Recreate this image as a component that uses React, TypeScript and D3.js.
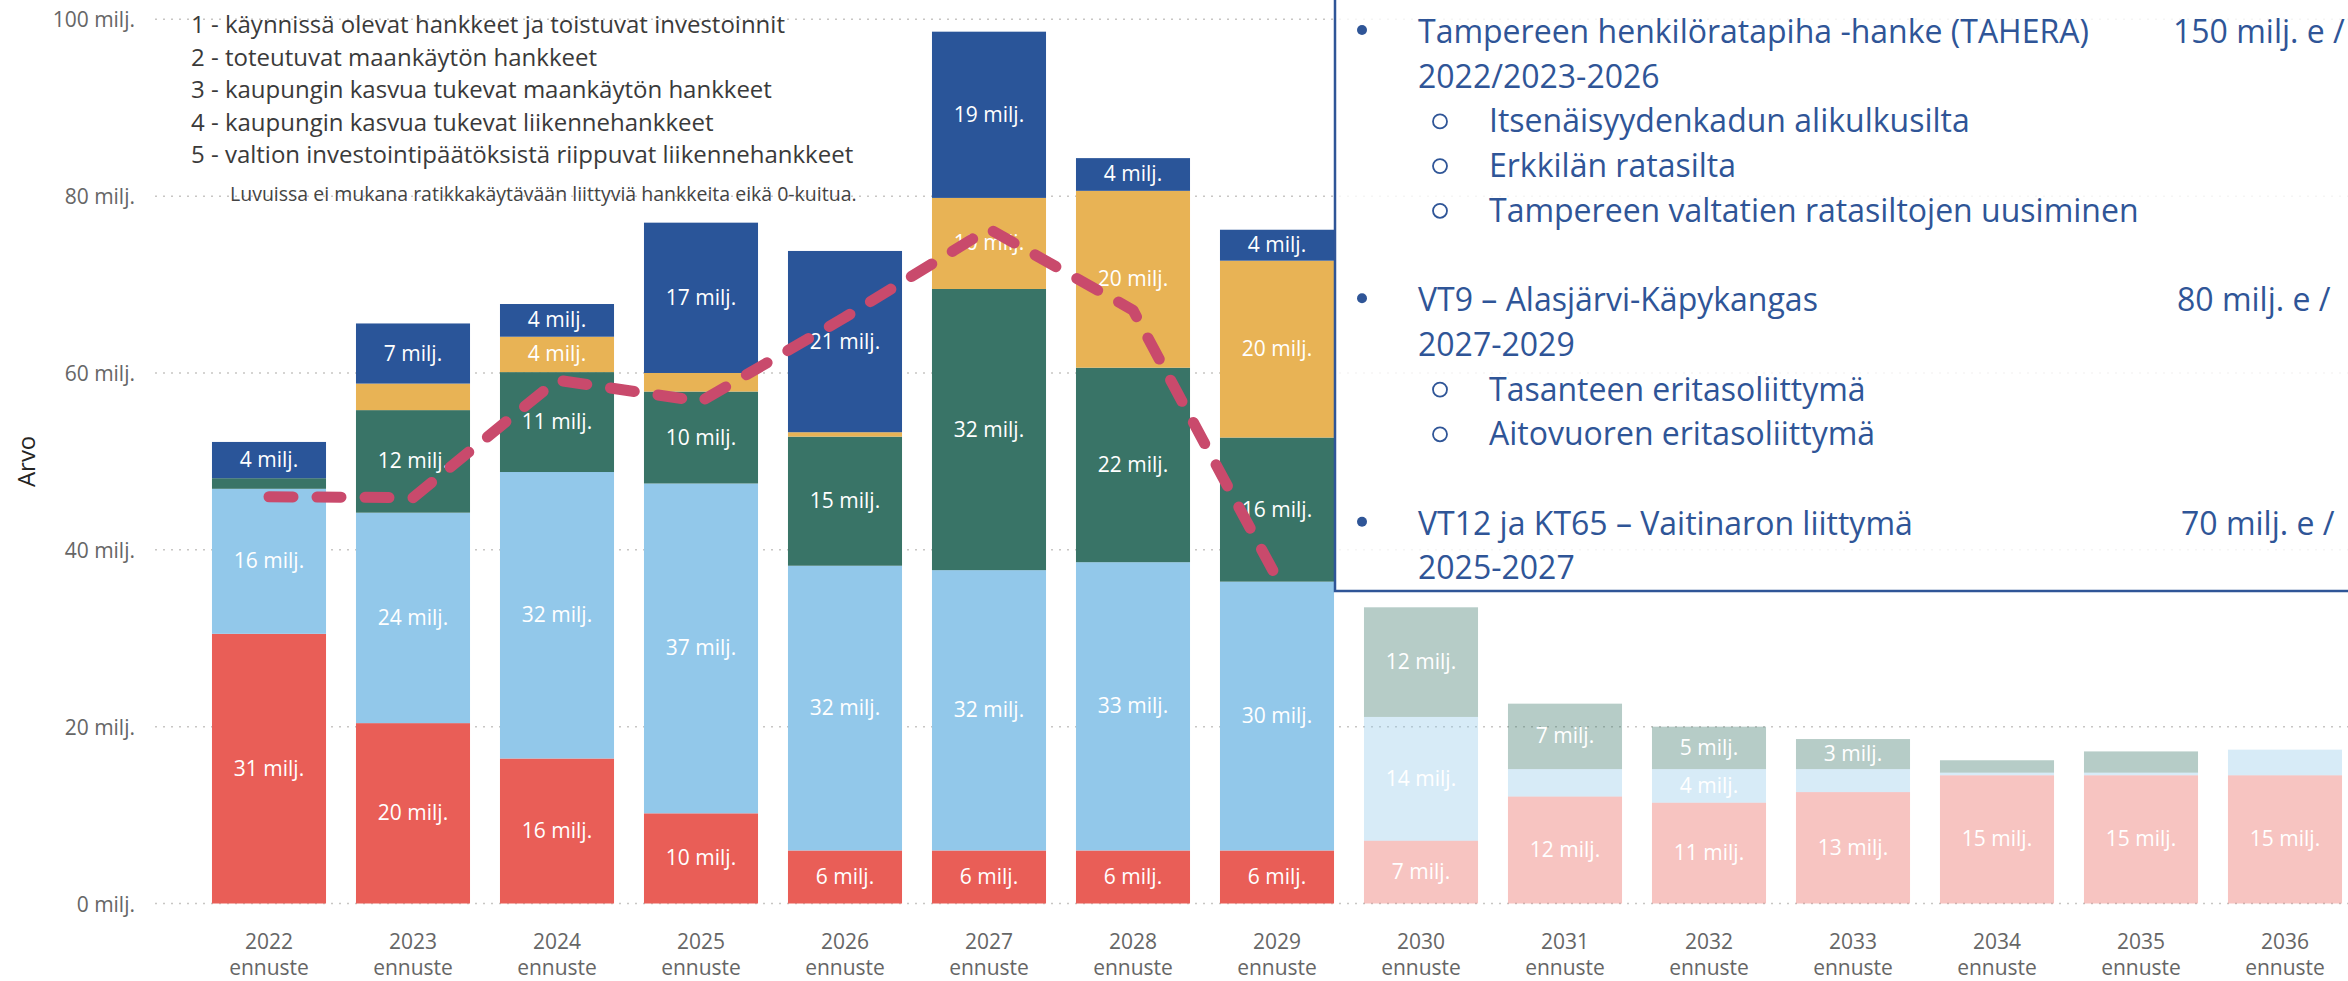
import * as d3 from "d3";

// categories
const years = ["2022", "2023", "2024", "2025", "2026", "2027", "2028", "2029", "2030", "2031", "2032", "2033", "2034", "2035", "2036"];
const fadedFrom = 8; // 2030 onwards drawn pale

// series values, milj. e (bottom to top)
const kaynnissa = [30.5, 20.4, 16.4, 10.2, 6.0, 6.0, 6.0, 6.0, 7.1, 12.1, 11.4, 12.6, 14.5, 14.5, 14.5];
const toteutuvat = [16.4, 23.8, 32.4, 37.3, 32.2, 31.7, 32.6, 30.4, 14.0, 3.1, 3.8, 2.6, 0.3, 0.3, 2.9];
const kasvuMaankaytto = [1.2, 11.6, 11.3, 10.4, 14.6, 31.8, 22.0, 16.3, 12.4, 7.4, 4.8, 3.4, 1.4, 2.4, 0];
const kasvuLiikenne = [0, 3.0, 4.0, 2.1, 0.5, 10.3, 20.0, 20.0, 0, 0, 0, 0, 0, 0, 0];
const valtio = [4.1, 6.8, 3.7, 17.0, 20.5, 18.8, 3.7, 3.5, 0, 0, 0, 0, 0, 0, 0];

// dashed trend line, 2022-2029
const trendYears = ["2022", "2023", "2024", "2025", "2026", "2027", "2028", "2029"];
const trendValues = [46.0, 45.9, 59.2, 56.8, 66.3, 76.3, 67.1, 36.8];

const yTicks = [0, 20, 40, 60, 80, 100];

const seriesKeys = ["kaynnissa", "toteutuvat", "kasvuMaankaytto", "kasvuLiikenne", "valtio"];
const seriesColors = ["#E95E57", "#92C8EA", "#397467", "#E8B355", "#2A5599"];

const legendLines = [
  "1 - käynnissä olevat hankkeet ja toistuvat investoinnit",
  "2 - toteutuvat maankäytön hankkeet",
  "3 - kaupungin kasvua tukevat maankäytön hankkeet",
  "4 - kaupungin kasvua tukevat liikennehankkeet",
  "5 - valtion investointipäätöksistä riippuvat liikennehankkeet",
];
const note = "Luvuissa ei mukana ratikkakäytävään liittyviä hankkeita eikä 0-kuitua.";

// text box lines: [row, level, text, amount]
const boxLines: [number, number, string, string][] = [
  [0, 1, "Tampereen henkilöratapiha -hanke (TAHERA)", "150 milj. e /"],
  [1, 0, "2022/2023-2026", ""],
  [2, 2, "Itsenäisyydenkadun alikulkusilta", ""],
  [3, 2, "Erkkilän ratasilta", ""],
  [4, 2, "Tampereen valtatien ratasiltojen uusiminen", ""],
  [6, 1, "VT9 – Alasjärvi-Käpykangas", "80 milj. e /"],
  [7, 0, "2027-2029", ""],
  [8, 2, "Tasanteen eritasoliittymä", ""],
  [9, 2, "Aitovuoren eritasoliittymä", ""],
  [11, 1, "VT12 ja KT65 – Vaitinaron liittymä", "70 milj. e /"],
  [12, 0, "2025-2027", ""],
];
const amountX = [2173, 2177, 2181];

const width = 2348;
const height = 981;
const font = "'Segoe UI', 'Open Sans', sans-serif";

export default function App() {
  const rows = years.map((year, i) => ({
    year,
    kaynnissa: kaynnissa[i],
    toteutuvat: toteutuvat[i],
    kasvuMaankaytto: kasvuMaankaytto[i],
    kasvuLiikenne: kasvuLiikenne[i],
    valtio: valtio[i],
  }));
  const stacked = d3.stack<any>().keys(seriesKeys)(rows);

  const x = d3
    .scaleBand()
    .domain(years)
    .range([197, 2357])
    .paddingInner(0.208)
    .paddingOuter(0.104);
  const y = d3.scaleLinear().domain([0, 100]).range([903.5, 19.3]);

  const line = d3
    .line<number>()
    .x((_, i) => x(trendYears[i])! + x.bandwidth() / 2)
    .y((d) => y(d));

  const boxStep = 44.7;

  return (
    <svg
      width={width}
      height={height}
      style={{ position: "absolute", left: 0, top: 0, background: "#fff" }}
      fontFamily={font}
    >
      {/* gridlines and y ticks */}
      {yTicks.map((t) => (
        <g key={t}>
          <line x1={155} x2={width} y1={y(t)} y2={y(t)} stroke="#C8C6C4" strokeWidth={1.5} strokeDasharray="2 6" />
          <text x={135} y={y(t) + 8} textAnchor="end" fontSize={21} fill="#666">
            {t} milj.
          </text>
        </g>
      ))}
      <text transform={`translate(35,${(y(0) + y(100)) / 2}) rotate(-90)`} textAnchor="middle" fontSize={24} fill="#252423">
        Arvo
      </text>

      {/* stacked bars */}
      {stacked.map((s, si) => (
        <g key={s.key}>
          {s.map((d, i) => {
            const v = d[1] - d[0];
            if (v <= 0) return null;
            const bx = x(years[i])!;
            const faded = i >= fadedFrom;
            return (
              <g key={i}>
                <rect
                  x={bx}
                  y={y(d[1])}
                  width={x.bandwidth()}
                  height={y(d[0]) - y(d[1])}
                  fill={seriesColors[si]}
                  fillOpacity={faded ? 0.37 : 1}
                />
                {v >= 3.3 && (
                  <text
                    x={bx + x.bandwidth() / 2}
                    y={(y(d[0]) + y(d[1])) / 2 + 7}
                    textAnchor="middle"
                    fontSize={21}
                    fill="#fff"
                  >
                    {Math.round(v)} milj.
                  </text>
                )}
              </g>
            );
          })}
        </g>
      ))}

      {/* x axis labels */}
      {years.map((yr) => (
        <g key={yr}>
          <text x={x(yr)! + x.bandwidth() / 2} y={949} textAnchor="middle" fontSize={21} fill="#666">
            {yr}
          </text>
          <text x={x(yr)! + x.bandwidth() / 2} y={975} textAnchor="middle" fontSize={21} fill="#666">
            ennuste
          </text>
        </g>
      ))}

      {/* legend text */}
      {legendLines.map((l, i) => (
        <text key={l} x={191} y={33 + i * 32.5} fontSize={24} fill="#3a3a3a">
          {l}
        </text>
      ))}
      <text x={230} y={201} fontSize={19.5} fill="#444">
        {note}
      </text>

      {/* dashed trend line */}
      <path
        d={line(trendValues)!}
        fill="none"
        stroke="#C94A6C"
        strokeWidth={11}
        strokeLinecap="round"
        strokeLinejoin="round"
        strokeDasharray="24 24"
      />

      {/* project text box */}
      <rect x={1335} y={-20} width={1100} height={611} fill="#fff" fillOpacity={0.82} stroke="#2F5597" strokeWidth={2.5} />
      {boxLines.map(([row, level, txt, amount]) => {
        const by = 43 + row * boxStep;
        return (
          <g key={row}>
            {level === 1 && <circle cx={1362} cy={by - 13} r={5} fill="#2F5597" />}
            {level === 2 && <circle cx={1440} cy={by - 11} r={7} fill="none" stroke="#2F5597" strokeWidth={1.8} />}
            <text x={level === 2 ? 1489 : 1418} y={by} fontSize={32} fill="#2F5597">
              {txt}
            </text>
            {amount && (
              <text x={amountX[[0, 6, 11].indexOf(row)]} y={by} fontSize={32} fill="#2F5597">
                {amount}
              </text>
            )}
          </g>
        );
      })}
    </svg>
  );
}
